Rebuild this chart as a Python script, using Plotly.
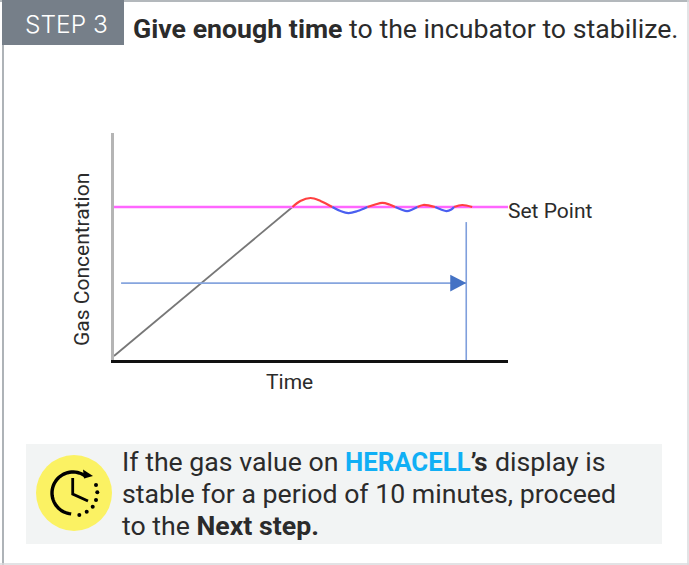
import numpy as np
import plotly.graph_objects as go

W, H = 689, 565

# chart data (time %, gas concentration %)
ramp_time = [0, 45.3]
ramp_gas = [1.8, 68]
setpoint_time = [0, 100]
setpoint_gas = [68, 68]
red_segments = [
    ([45.3, 47.3, 49.9, 52.4, 55.4], [68, 70.7, 72, 70.7, 68]),
    ([64.3, 66.3, 68.1, 69.9, 71.4], [68, 69.1, 69.8, 69.1, 68]),
    ([77, 78.5, 81.5], [68, 68.9, 68]),
    ([86.3, 88.4, 90.9], [68, 68.9, 68]),
]
blue_segments = [
    ([55.4, 57.5, 59.5, 61.8, 64.3], [68, 66.2, 65.3, 66.2, 68]),
    ([71.4, 72.9, 74.4, 75.7, 77], [68, 66.9, 66.2, 66.9, 68]),
    ([81.5, 83, 84.4, 85.6, 86.3], [68, 66.9, 66.2, 66.9, 68]),
]
stable_time = [89.4, 89.4]
stable_gas = [0, 61.3]
period_time = [1.8, 89.4]
period_gas = [34.2, 34.2]

x_title = "Time"
y_title = "Gas Concentration"
set_label = "Set Point"
FONT = "Roboto"
DARK = "#2b2b2b"


def fx(px):
    return px / W


def fy(py):
    return 1 - py / H


fig = go.Figure()
fig.add_trace(go.Scatter(x=ramp_time, y=ramp_gas, mode="lines", line=dict(color="#777777", width=1.8)))
fig.add_trace(go.Scatter(x=setpoint_time, y=setpoint_gas, mode="lines", line=dict(color="#ff66ff", width=2.6)))
for xs, ys in red_segments:
    fig.add_trace(go.Scatter(x=xs, y=ys, mode="lines", line=dict(color="#ff4040", width=2.2, shape="spline")))
for xs, ys in blue_segments:
    fig.add_trace(go.Scatter(x=xs, y=ys, mode="lines", line=dict(color="#4a5ff0", width=2.2, shape="spline")))
fig.add_trace(go.Scatter(x=stable_time, y=stable_gas, mode="lines", line=dict(color="#7f9fdc", width=1.6)))
fig.add_trace(go.Scatter(x=period_time, y=period_gas, mode="lines", line=dict(color="#86a5de", width=1.8)))

tip, base, half = period_time[1], period_time[1] - 4.05, 3.7
mid = period_gas[0]
shapes = [
    dict(type="path", xref="x", yref="y", fillcolor="#4472c4", line=dict(width=0),
         path=f"M {base},{mid - half} L {tip},{mid} L {base},{mid + half} Z"),
    dict(type="line", xref="paper", yref="paper", x0=fx(3), x1=fx(3), y0=fy(565), y1=fy(0),
         line=dict(color="#9aa0a6", width=1.6), layer="below"),
    dict(type="line", xref="paper", yref="paper", x0=fx(0), x1=fx(689), y0=fy(1), y1=fy(1),
         line=dict(color="#9aa0a6", width=1.6), layer="below"),
    dict(type="line", xref="paper", yref="paper", x0=fx(688), x1=fx(688), y0=fy(565), y1=fy(0),
         line=dict(color="#d8dadc", width=1.5), layer="below"),
    dict(type="line", xref="paper", yref="paper", x0=fx(0), x1=fx(689), y0=fy(564), y1=fy(564),
         line=dict(color="#d8dadc", width=1.5), layer="below"),
    dict(type="rect", xref="paper", yref="paper", x0=fx(2), x1=fx(124), y0=fy(45), y1=fy(0),
         line=dict(width=0), fillcolor="#767f89", layer="below"),
    dict(type="rect", xref="paper", yref="paper", x0=fx(26), x1=fx(662), y0=fy(544), y1=fy(444),
         line=dict(width=0), fillcolor="#f2f4f4", layer="below"),
    dict(type="circle", xref="paper", yref="paper", x0=fx(36), x1=fx(112), y0=fy(531), y1=fy(455),
         line=dict(width=0), fillcolor="#fbf263", layer="below"),
]

# clock icon
cx, cy, r = 73, 493, 21
ang = np.radians(np.linspace(-50, -265, 40))
arc = [(cx + r * np.cos(a), cy + r * np.sin(a)) for a in ang]
path = "M " + " L ".join(f"{fx(a):.5f},{fy(b):.5f}" for a, b in arc)
shapes.append(dict(type="path", xref="paper", yref="paper", path=path, line=dict(color="black", width=3.4)))
hands = [(72.7, 478), (72.7, 494), (88, 501)]
path = "M " + " L ".join(f"{fx(a):.5f},{fy(b):.5f}" for a, b in hands)
shapes.append(dict(type="path", xref="paper", yref="paper", path=path, line=dict(color="black", width=2.8)))
head = [(93, 476), (83, 469.5), (84, 478.5)]
path = "M " + " L ".join(f"{fx(a):.5f},{fy(b):.5f}" for a, b in head) + " Z"
shapes.append(dict(type="path", xref="paper", yref="paper", path=path, fillcolor="black", line=dict(width=0)))
for a, b in [(96, 485), (97.3, 492.3), (96, 500), (92.7, 506.7), (86.7, 511.7), (79.3, 515)]:
    shapes.append(dict(type="circle", xref="paper", yref="paper", x0=fx(a - 2), x1=fx(a + 2),
                       y0=fy(b + 2), y1=fy(b - 2), fillcolor="black", line=dict(width=0)))


def txt(px, py, text, size, color=DARK, anchor="left", angle=0, family=FONT, weight=None):
    font = dict(family=family, size=size, color=color)
    if weight:
        font["weight"] = weight
    shift = -2 if anchor == "left" else 0
    return dict(xref="paper", yref="paper", x=fx(px + shift), y=fy(py), text=text, showarrow=False,
                xanchor=anchor, yanchor="middle", textangle=angle, font=font)


annotations = [
    txt(25, 24, "STEP 3", 24.5, "#ffffff", family="Inter, Lato, sans-serif", weight=300),
    txt(133, 29, "<b>Give enough time</b> to the incubator to stabilize.", 26.7),
    txt(508, 211, set_label, 21),
    txt(289.5, 382, x_title, 21, anchor="center"),
    txt(82, 260, y_title, 21, anchor="center", angle=-90),
    txt(122, 462, "If the gas value on", 26.7),
    txt(345, 462, '<b><span style="color:#10aff5">HERACELL</span>’s</b>', 25.8),
    txt(495, 462, "display is", 26.7),
    txt(122, 494, "stable for a period of 10 minutes, proceed", 26.7),
    txt(122, 526, "to the <b>Next step.</b>", 26.7),
]

fig.update_layout(
    width=W, height=H, autosize=False, showlegend=False,
    paper_bgcolor="white", plot_bgcolor="rgba(0,0,0,0)",
    margin=dict(l=0, r=0, t=0, b=0),
    shapes=shapes, annotations=annotations,
    xaxis=dict(domain=[fx(114), fx(508)], range=[0, 100], showgrid=False, zeroline=False,
               showline=True, linecolor="#111111", linewidth=3, ticks="", showticklabels=False),
    yaxis=dict(domain=[fy(360), fy(133)], range=[0, 100.9], showgrid=False, zeroline=False,
               showline=True, linecolor="#b5b5b5", linewidth=3, ticks="", showticklabels=False),
)
fig.write_html("out.html", config=dict(displayModeBar=False),
               post_script="document.body.style.margin='0';document.body.style.overflow='hidden';")
